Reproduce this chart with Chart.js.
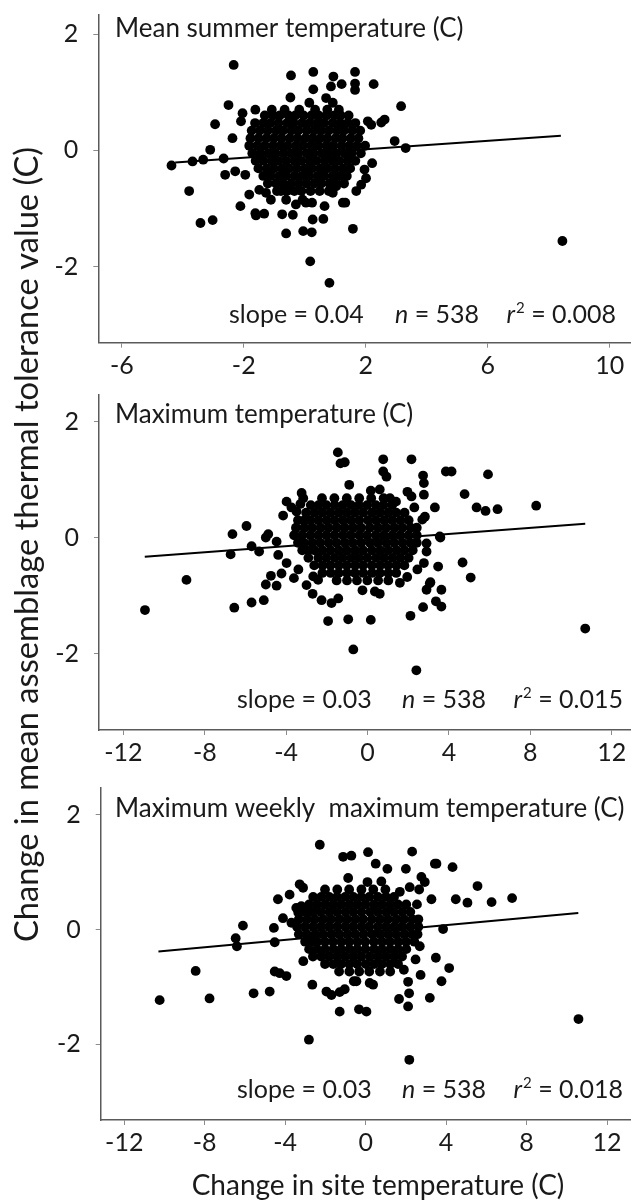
<!DOCTYPE html>
<html lang="en">
<head>
<meta charset="UTF-8">
<title>Change in thermal tolerance vs change in site temperature</title>
<script src="https://cdn.jsdelivr.net/npm/chart.js@4.4.1/dist/chart.umd.min.js"></script>
<style>
  body { margin: 0; background: #fff; }
  #wrap { position: relative; width: 631px; height: 1201px; overflow: hidden; }
  canvas { position: absolute; left: 0; }
</style>
</head>
<body>
<div id="wrap">
  <canvas id="c1" width="631" height="385" style="top:0px"></canvas>
  <canvas id="c2" width="631" height="390" style="top:385px"></canvas>
  <canvas id="c3" width="631" height="426" style="top:775px"></canvas>
  <canvas id="ytitle" width="60" height="1201" style="top:0px"></canvas>
</div>
<script>
// labels and stats
var panelTitles = ["Mean summer temperature (C)", "Maximum temperature (C)", "Maximum weekly  maximum temperature (C)"];
var slopes = ["0.04", "0.03", "0.03"];
var nValues = ["538", "538", "538"];
var r2Values = ["0.008", "0.015", "0.018"];
var xTitle = "Change in site temperature (C)";
var yTitle = "Change in mean assemblage thermal tolerance value (C)";
var yTicks = [-2, 0, 2];
var xTicksMean = [-6, -2, 2, 6, 10];
var xTicksMax = [-12, -8, -4, 0, 4, 8, 12];

// panel 1: mean summer temperature, scattered points [x, y]
var meanSummer = [[-2.33,1.47],[-0.45,1.29],[0.28,1.35],[0.94,1.27],[1.65,1.35],[1.21,1.14],[1.65,1.15],[1.65,1.04],[2.26,1.14],
  [0.86,1.10],[0.28,1.05],[-0.47,0.91],[-2.50,0.78],[0.15,0.82],[0.70,0.90],[0.92,0.82],[3.16,0.76],[-2.94,0.45],[-2.04,0.64],
  [-2.09,0.50],[2.62,0.53],[2.51,0.48],[2.07,0.50],[2.18,0.44],[-2.37,0.21],[-3.10,0.01],[2.95,0.16],[3.31,0.04],[-3.68,-0.19],
  [-3.33,-0.16],[-2.66,-0.14],[-4.37,-0.26],[-2.61,-0.42],[-2.28,-0.36],[-1.95,-0.42],[-3.79,-0.70],[2.21,-0.22],[1.96,-0.33],
  [2.01,-0.48],[1.85,-0.59],[1.69,-0.70],[-1.82,-0.76],[-1.49,-0.68],[-2.11,-0.96],[-1.62,-1.08],[-1.33,-1.09],[-1.60,-1.12],
  [-0.74,-1.10],[-0.39,-1.11],[0.04,-0.90],[0.24,-0.90],[0.65,-0.96],[1.25,-0.90],[1.33,-0.90],[0.26,-1.19],[0.61,-1.18],
  [1.58,-1.35],[-3.42,-1.25],[-3.02,-1.20],[-0.61,-1.43],[-0.05,-1.39],[0.23,-1.41],[-0.78,-0.70],[-0.50,-0.68],[-0.61,-0.85],
  [-1.11,-0.85],[-1.27,-0.73],[-0.29,-0.93],[-0.07,-0.85],[0.92,-0.73],[1.03,-0.62],[0.18,-1.91],[0.81,-2.28],[8.45,-1.56]];
// dense centre, rows of [y, x values]
var meanSummerCore = [
  [0.70, [-1.62,-1.08,-0.66,-0.18,0.34,0.74,1.12]],
  [0.60, [-1.31,-1.04,-0.82,-0.53,-0.31,-0.04,0.22,0.46,0.71,0.97,1.18,1.44]],
  [0.47, [-1.63,-1.36,-1.12,-0.86,-0.58,-0.36,-0.09,0.16,0.41,0.63,0.91,1.16,1.41,1.66]],
  [0.34, [-1.74,-1.47,-1.21,-0.94,-0.71,-0.44,-0.21,0.06,0.31,0.54,0.79,1.06,1.29,1.56,1.82]],
  [0.21, [-1.78,-1.52,-1.26,-1.01,-0.76,-0.49,-0.24,0.02,0.26,0.51,0.74,1.01,1.24,1.51,1.76]],
  [0.08, [-1.82,-1.56,-1.31,-1.04,-0.79,-0.56,-0.29,-0.06,0.21,0.44,0.71,0.94,1.21,1.46,1.71,1.98]],
  [-0.05, [-1.72,-1.46,-1.19,-0.96,-0.69,-0.44,-0.21,0.06,0.29,0.56,0.79,1.04,1.31,1.54,1.84]],
  [-0.18, [-1.61,-1.36,-1.09,-0.86,-0.61,-0.34,-0.11,0.16,0.39,0.66,0.91,1.14,1.41,1.66]],
  [-0.31, [-1.52,-1.24,-1.01,-0.74,-0.51,-0.26,0.01,0.24,0.51,0.74,0.99,1.26,1.49]],
  [-0.44, [-1.36,-1.11,-0.84,-0.61,-0.34,-0.09,0.14,0.41,0.64,0.91,1.14,1.38]],
  [-0.57, [-1.21,-0.94,-0.71,-0.44,-0.19,0.06,0.31,0.54,0.81,1.04,1.29]],
  [-0.70, [-0.91,-0.59,-0.34,-0.11,0.19,0.49,0.79]]];
var meanSummerFit = [[-4.25,-0.21],[8.40,0.25]];

// panel 2: maximum temperature
var maxTemp = [[-10.94,-1.25],[-8.90,-0.73],[-6.55,-1.21],[-5.70,-1.12],[-5.10,-1.08],[-6.73,-0.29],[-6.64,0.06],[-5.95,0.20],
  [-5.70,-0.15],[-5.33,-0.24],[-5.00,0.00],[-4.88,0.06],[-4.47,-0.07],[-4.39,-0.30],[-4.15,0.38],[-3.98,0.62],[-3.74,0.52],
  [-3.49,0.45],[-3.24,0.77],[-3.16,0.68],[-5.00,-0.81],[-4.75,-0.66],[-4.47,-0.83],[-4.23,-0.62],[-3.98,-0.44],[-3.62,-0.70],
  [-1.46,1.47],[-1.33,1.28],[-1.12,1.30],[-0.90,0.91],[0.77,1.35],[0.77,1.14],[0.93,1.05],[2.16,1.35],[2.73,1.07],[2.77,0.94],
  [2.77,0.74],[3.31,0.52],[3.85,1.14],[4.13,1.14],[0.16,0.81],[0.60,0.83],[1.10,0.68],[1.96,0.79],[2.16,0.71],[2.82,0.36],
  [3.55,0.02],[2.90,-0.10],[2.90,-0.24],[2.77,-0.44],[3.47,-0.50],[3.06,-0.79],[2.90,-0.90],[3.63,-0.90],[3.36,-1.10],
  [3.63,-1.19],[2.73,-1.20],[2.11,-1.35],[-1.94,-1.44],[-0.95,-1.41],[0.16,-1.42],[-0.70,-1.93],[2.40,-2.29],[-2.70,-0.97],
  [-2.26,-1.08],[-1.77,-1.13],[-1.44,-1.05],[-0.25,-0.91],[0.36,-0.93],[0.60,-0.97],[-3.00,-0.82],[-2.67,-0.67],[-2.43,-0.73],
  [1.59,-0.78],[4.77,0.75],[5.36,0.52],[5.80,0.46],[5.92,1.09],[6.39,0.49],[8.29,0.55],[10.70,-1.57],[4.67,-0.43],[5.07,-0.69],
  [3.58,0.00],[2.69,0.31],[3.09,-0.77],[-3.40,-0.55],[-3.30,0.58],[1.40,0.62],[2.30,0.52],[2.45,-0.55],[1.95,-0.68]];
var maxTempCore = [
  [0.68, [-2.24,-1.63,-1.02,-0.41,0.18,0.79]],
  [0.56, [-2.79,-2.41,-2.02,-1.61,-1.22,-0.81,-0.42,-0.02,0.41,0.79,1.21]],
  [0.43, [-3.02,-2.61,-2.22,-1.82,-1.41,-1.02,-0.62,-0.21,0.22,0.61,1.02,1.41,1.82]],
  [0.30, [-3.42,-3.11,-2.82,-2.42,-2.01,-1.62,-1.21,-0.82,-0.41,0.02,0.41,0.82,1.21,1.62,2.02]],
  [0.17, [-3.52,-3.11,-2.72,-2.31,-1.92,-1.51,-1.12,-0.71,-0.32,0.11,0.52,0.91,1.32,1.71,2.12,2.42]],
  [0.04, [-3.61,-3.22,-2.81,-2.42,-2.02,-1.62,-1.21,-0.82,-0.41,-0.02,0.41,0.81,1.22,1.61,2.02,2.42]],
  [-0.09, [-3.42,-3.12,-2.71,-2.32,-1.91,-1.52,-1.11,-0.72,-0.31,0.12,0.51,0.92,1.31,1.72,2.11,2.42]],
  [-0.22, [-3.21,-2.92,-2.61,-2.22,-1.82,-1.41,-1.02,-0.61,-0.22,0.21,0.62,1.01,1.42,1.81,2.22]],
  [-0.35, [-2.91,-2.42,-2.02,-1.61,-1.22,-0.81,-0.42,-0.01,0.42,0.81,1.22,1.61,2.02]],
  [-0.48, [-2.62,-2.21,-1.82,-1.41,-1.02,-0.61,-0.22,0.21,0.62,1.01,1.42,1.81]],
  [-0.61, [-2.22,-1.81,-1.42,-1.01,-0.62,-0.21,0.22,0.61,1.02,1.41]],
  [-0.74, [-1.52,-1.01,-0.52,-0.01,0.52,1.02]]];
var maxTempFit = [[-10.95,-0.33],[10.70,0.24]];

// panel 3: maximum weekly maximum temperature
var maxWeekly = [[-10.24,-1.23],[-8.45,-0.72],[-7.76,-1.20],[-5.57,-1.11],[-4.77,-1.08],[-6.10,0.07],[-6.46,-0.15],[-6.40,-0.29],
  [-4.52,-0.22],[-4.36,0.53],[-3.78,0.61],[-3.28,0.79],[-3.11,0.73],[-4.56,0.03],[-4.11,0.20],[-3.69,0.12],[-3.45,0.38],
  [-3.20,0.41],[-4.52,-0.73],[-4.27,-0.76],[-3.94,-0.81],[-2.65,-0.96],[-2.28,1.48],[-1.12,1.27],[-0.71,1.29],[0.12,1.35],
  [0.50,1.15],[1.08,1.06],[2.00,1.06],[2.31,1.36],[3.44,1.15],[3.52,1.15],[4.32,1.09],[-0.87,0.90],[0.09,0.83],[0.78,0.84],
  [2.19,0.74],[2.77,0.92],[2.94,0.83],[2.66,0.70],[3.27,0.53],[4.48,0.53],[5.06,0.47],[5.56,0.76],[6.26,0.48],[7.28,0.55],
  [3.85,0.01],[2.69,-0.29],[3.49,-0.49],[4.15,-0.67],[3.77,-0.90],[2.73,-0.79],[2.11,-0.91],[2.16,-1.11],[2.11,-1.34],
  [3.19,-1.19],[1.66,-1.21],[-1.29,-1.43],[-0.33,-1.39],[0.04,-1.43],[-2.82,-1.92],[2.17,-2.27],[-1.95,-1.08],[-1.70,-1.14],
  [-1.29,-1.09],[-1.04,-1.04],[-0.46,-0.90],[0.20,-0.93],[0.37,-0.96],[10.58,-1.56],[-0.59,-0.90],[-3.10,-0.55],[-3.35,0.30],
  [1.70,0.66],[2.55,0.44],[2.48,-0.52],[1.90,-0.70]];
var maxWeeklyCore = [
  [0.70, [-2.02,-1.41,-0.82,-0.21,0.38,0.98]],
  [0.57, [-2.61,-2.21,-1.81,-1.42,-1.02,-0.61,-0.22,0.18,0.61,1.01,1.41]],
  [0.44, [-2.81,-2.42,-2.01,-1.61,-1.22,-0.81,-0.42,-0.01,0.42,0.81,1.22,1.61,2.02]],
  [0.31, [-3.22,-2.91,-2.61,-2.22,-1.81,-1.42,-1.01,-0.62,-0.21,0.22,0.61,1.02,1.41,1.82,2.22]],
  [0.18, [-3.32,-2.91,-2.52,-2.11,-1.72,-1.31,-0.92,-0.51,-0.12,0.31,0.72,1.11,1.52,1.91,2.32,2.62]],
  [0.05, [-3.41,-3.02,-2.61,-2.22,-1.82,-1.42,-1.01,-0.62,-0.21,0.18,0.61,1.01,1.42,1.81,2.22,2.62]],
  [-0.08, [-3.32,-2.92,-2.51,-2.12,-1.71,-1.32,-0.91,-0.52,-0.11,0.32,0.71,1.12,1.51,1.92,2.31,2.58]],
  [-0.21, [-3.01,-2.72,-2.41,-2.02,-1.62,-1.21,-0.82,-0.41,-0.02,0.41,0.82,1.21,1.62,2.01,2.42]],
  [-0.34, [-2.81,-2.42,-2.02,-1.61,-1.22,-0.81,-0.42,-0.01,0.42,0.81,1.22,1.61,2.02]],
  [-0.47, [-2.62,-2.21,-1.82,-1.41,-1.02,-0.61,-0.22,0.21,0.62,1.01,1.42,1.81]],
  [-0.60, [-2.02,-1.61,-1.22,-0.81,-0.42,0.01,0.42,0.81,1.22,1.61]],
  [-0.73, [-1.32,-0.81,-0.32,0.18,0.71,1.22]]];
var maxWeeklyFit = [[-10.30,-0.38],[10.57,0.29]];

var ink = "#1a1a1a";

function toXY(pairs, rows) {
  var out = pairs.map(function (p) { return {x: p[0], y: p[1]}; });
  (rows || []).forEach(function (r) {
    r[1].forEach(function (x) { out.push({x: x, y: r[0]}); });
  });
  return out;
}

// panel heading + stats line drawn inside the plot
var panelText = {
  id: "panelText",
  afterDraw: function (chart, args, o) {
    var ctx = chart.ctx;
    ctx.save();
    ctx.fillStyle = ink;
    ctx.textAlign = "left";
    ctx.textBaseline = "alphabetic";
    ctx.font = "26px Lato";
    ctx.fillText(o.title, 115, o.titleY);

    var y = o.statsY;
    ctx.font = "25px Lato";
    ctx.fillText("slope = " + o.slope, o.slopeX, y);
    ctx.font = "italic 25px Lato";
    ctx.fillText("n", o.nX, y);
    var nW = ctx.measureText("n").width;
    ctx.font = "25px Lato";
    ctx.fillText(" = " + o.n, o.nX + nW, y);

    var tail = " = " + o.r2;
    var tailW = ctx.measureText(tail).width;
    ctx.font = "15px Lato";
    var supW = ctx.measureText("2").width;
    ctx.font = "italic 25px Lato";
    var rW = ctx.measureText("r").width;
    var x = o.rEnd - tailW - supW - rW - 1;
    ctx.fillText("r", x, y);
    ctx.font = "15px Lato";
    ctx.fillText("2", x + rW + 1, y - 10);
    ctx.font = "25px Lato";
    ctx.fillText(tail, x + rW + supW + 1, y);

    if (o.xTitle) {
      ctx.font = "28px Lato";
      ctx.textAlign = "center";
      ctx.fillText(o.xTitle, o.xTitleX, o.xTitleY);
    }
    ctx.restore();
  }
};

function makePanel(id, points, fit, xRange, xTicks, yRange, padTop, yWidth, xHeight, text) {
  return new Chart(document.getElementById(id), {
    type: "scatter",
    data: {
      datasets: [{
        data: points,
        backgroundColor: "#000",
        pointRadius: 4.9,
        pointBorderWidth: 0,
        order: 2
      }, {
        data: fit.map(function (p) { return {x: p[0], y: p[1]}; }),
        showLine: true,
        borderColor: "#000",
        borderWidth: 2,
        pointRadius: 0,
        order: 1
      }]
    },
    options: {
      responsive: false,
      animation: false,
      events: [],
      layout: { autoPadding: false, padding: { top: padTop, left: 0, right: 0, bottom: 0 } },
      plugins: { legend: { display: false }, tooltip: { enabled: false }, panelText: text },
      scales: {
        x: {
          type: "linear", min: xRange[0], max: xRange[1],
          afterBuildTicks: function (s) { s.ticks = xTicks.map(function (v) { return {value: v}; }); },
          afterFit: function (s) { s.height = xHeight; s.paddingLeft = 0; s.paddingRight = 0; },
          grid: { drawOnChartArea: false, drawTicks: true, tickLength: 5, color: "#8c8c8c" },
          border: { color: "#5a5a5a", width: 1.5 },
          ticks: { color: ink, padding: 3, maxRotation: 0, font: { family: "Lato", size: 25 } }
        },
        y: {
          type: "linear", min: yRange[0], max: yRange[1],
          afterBuildTicks: function (s) { s.ticks = yTicks.map(function (v) { return {value: v}; }); },
          // keep the plot top where the layout padding puts it
          afterFit: function (s) { s.width = yWidth; s.paddingTop = 0; s.paddingBottom = 0; },
          grid: { drawOnChartArea: false, drawTicks: true, tickLength: 5, color: "#8c8c8c" },
          border: { color: "#5a5a5a", width: 1.5 },
          ticks: { color: ink, padding: 15, font: { family: "Lato", size: 25 } }
        }
      }
    },
    plugins: [panelText]
  });
}

makePanel("c1", toXY(meanSummer, meanSummerCore), meanSummerFit, [-6.77, 10.70], xTicksMean, [-3.31, 2.33], 15, 98.3, 42.3,
  { title: panelTitles[0], titleY: 37, slope: slopes[0], n: nValues[0], r2: r2Values[0], statsY: 323, slopeX: 229, nX: 395, rEnd: 616 });
makePanel("c2", toXY(maxTemp, maxTempCore), maxTempFit, [-13.2, 12.95], xTicksMax, [-3.32, 2.46], 10, 99, 45,
  { title: panelTitles[1], titleY: 38, slope: slopes[1], n: nValues[1], r2: r2Values[1], statsY: 323, slopeX: 237, nX: 402, rEnd: 623 });
makePanel("c3", toXY(maxWeekly, maxWeeklyCore), maxWeeklyFit, [-13.17, 13.19], xTicksMax, [-3.32, 2.47], 13, 100.7, 81,
  { title: panelTitles[2], titleY: 42, slope: slopes[2], n: nValues[2], r2: r2Values[2], statsY: 323, slopeX: 237, nX: 402, rEnd: 623,
    xTitle: xTitle, xTitleX: 378, xTitleY: 420 });

// shared y title, rotated, running from y=147 to y=942
(function () {
  var ctx = document.getElementById("ytitle").getContext("2d");
  ctx.font = "29px Lato";
  var size = 29 * 795 / ctx.measureText(yTitle).width;
  ctx.save();
  ctx.translate(27, 544.5);
  ctx.rotate(-Math.PI / 2);
  ctx.font = size.toFixed(1) + "px Lato";
  ctx.fillStyle = ink;
  ctx.textAlign = "center";
  ctx.textBaseline = "middle";
  ctx.fillText(yTitle, 0, 0);
  ctx.restore();
})();
</script>
</body>
</html>
